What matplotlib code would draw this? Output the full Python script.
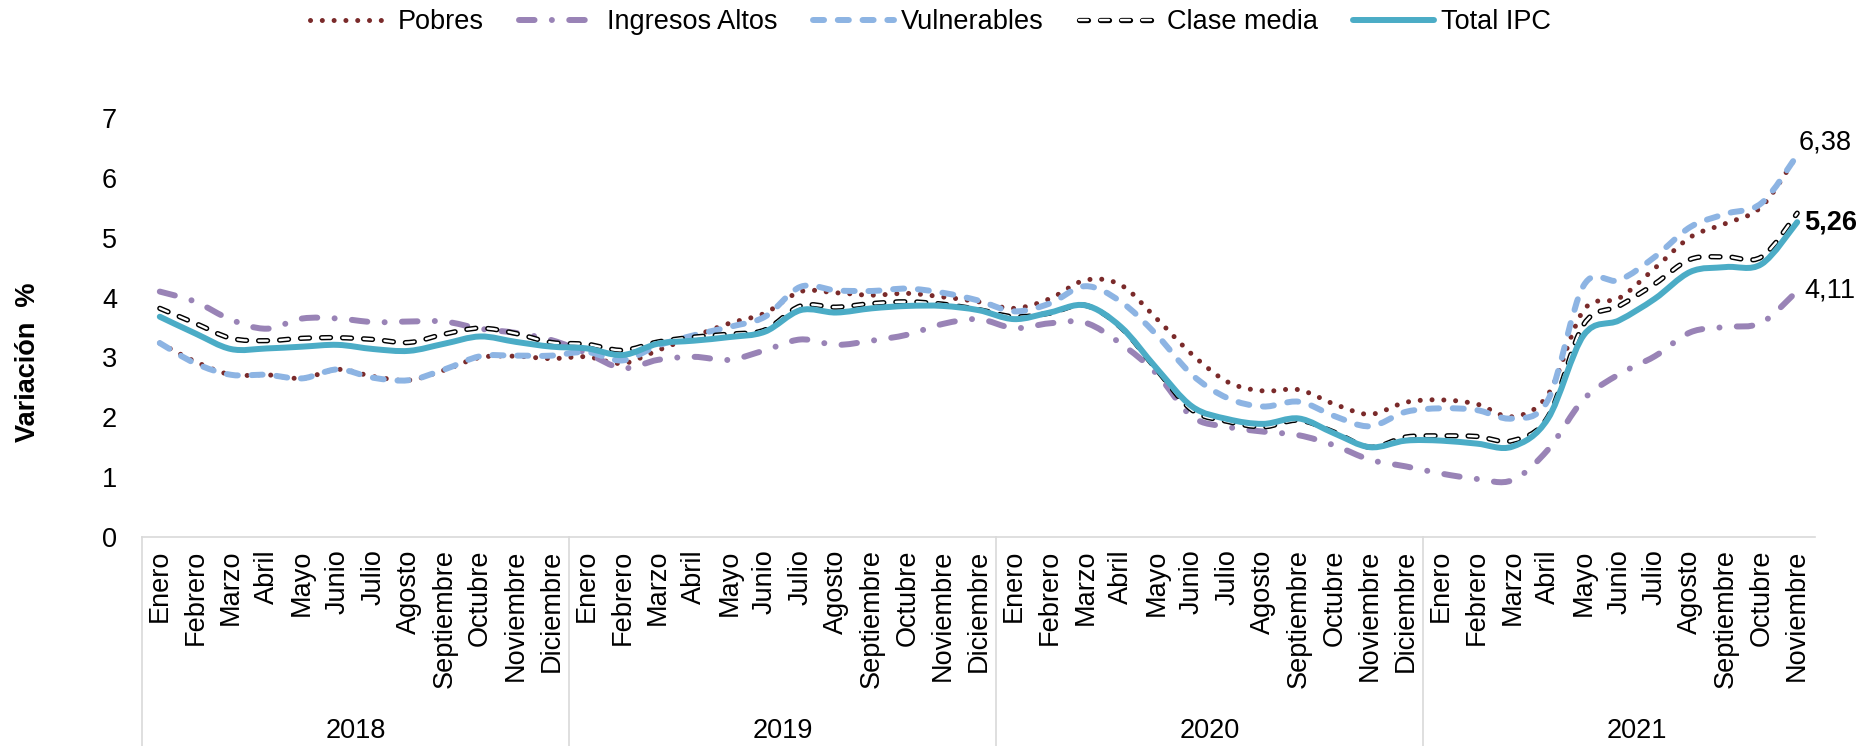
import numpy as np
import matplotlib
matplotlib.use("Agg")
import matplotlib.pyplot as plt
from matplotlib.path import Path
from matplotlib.patches import PathPatch
from matplotlib.lines import Line2D
import matplotlib.patheffects as pe

plt.rcParams['font.family'] = ['Liberation Sans', 'DejaVu Sans']

# datos
meses = ["Enero", "Febrero", "Marzo", "Abril", "Mayo", "Junio", "Julio", "Agosto",
         "Septiembre", "Octubre", "Noviembre", "Diciembre"]
anios = ["2018", "2019", "2020", "2021"]
meses_por_anio = [12, 12, 12, 11]

pobres = [3.24, 2.93, 2.71, 2.71, 2.65, 2.80, 2.68, 2.62, 2.79, 3.00, 3.02, 2.98,
          3.01, 2.90, 3.12, 3.35, 3.57, 3.74, 4.10, 4.08, 4.04, 4.07, 4.01, 3.93,
          3.82, 3.98, 4.29, 4.21, 3.65, 3.05, 2.59, 2.44, 2.46, 2.22, 2.05, 2.25,
          2.29, 2.22, 2.01, 2.38, 3.79, 3.99, 4.49, 5.01, 5.24, 5.52, 6.38]
ingresos_altos = [4.10, 3.93, 3.63, 3.48, 3.65, 3.65, 3.59, 3.60, 3.60, 3.48, 3.41, 3.29,
                  3.07, 2.82, 2.96, 3.01, 2.96, 3.12, 3.30, 3.21, 3.28, 3.38, 3.56, 3.64,
                  3.49, 3.57, 3.58, 3.23, 2.73, 2.01, 1.84, 1.76, 1.70, 1.53, 1.29, 1.18,
                  1.06, 0.97, 0.95, 1.46, 2.30, 2.72, 3.02, 3.42, 3.51, 3.58, 4.11]
vulnerables = [3.24, 2.90, 2.71, 2.71, 2.65, 2.80, 2.66, 2.62, 2.80, 3.02, 3.03, 3.03,
               3.09, 2.95, 3.20, 3.37, 3.51, 3.68, 4.18, 4.12, 4.11, 4.15, 4.08, 3.95,
               3.77, 3.90, 4.19, 3.93, 3.38, 2.71, 2.32, 2.18, 2.26, 2.02, 1.85, 2.09,
               2.15, 2.12, 1.98, 2.29, 4.20, 4.29, 4.68, 5.18, 5.40, 5.58, 6.38]
clase_media = [3.82, 3.57, 3.32, 3.28, 3.32, 3.33, 3.30, 3.25, 3.39, 3.49, 3.40, 3.25,
               3.22, 3.12, 3.26, 3.34, 3.39, 3.46, 3.86, 3.84, 3.90, 3.93, 3.89, 3.80,
               3.68, 3.74, 3.87, 3.50, 2.80, 2.12, 1.93, 1.84, 1.95, 1.75, 1.50, 1.67,
               1.69, 1.68, 1.61, 2.01, 3.55, 3.86, 4.23, 4.64, 4.68, 4.68, 5.41]
total_ipc = [3.68, 3.40, 3.14, 3.15, 3.18, 3.21, 3.14, 3.11, 3.23, 3.35, 3.26, 3.18,
             3.15, 3.04, 3.23, 3.28, 3.34, 3.43, 3.79, 3.75, 3.82, 3.86, 3.86, 3.79,
             3.64, 3.75, 3.87, 3.51, 2.82, 2.18, 1.97, 1.89, 1.98, 1.73, 1.50, 1.61,
             1.61, 1.56, 1.51, 1.98, 3.37, 3.62, 3.98, 4.43, 4.51, 4.56, 5.26]

etiquetas = []
for n in meses_por_anio:
    etiquetas += meses[:n]
x = np.arange(len(etiquetas))

FS = 19.5


def curva_suave(xs, ys):
    # linea suavizada tipo Excel (Bezier por tramos)
    n = len(xs)
    verts = [(xs[0], ys[0])]
    codes = [Path.MOVETO]
    for i in range(n - 1):
        i0 = max(i - 1, 0)
        i3 = min(i + 2, n - 1)
        c1 = (xs[i] + (xs[i + 1] - xs[i0]) / 6, ys[i] + (ys[i + 1] - ys[i0]) / 6)
        c2 = (xs[i + 1] - (xs[i3] - xs[i]) / 6, ys[i + 1] - (ys[i3] - ys[i]) / 6)
        verts += [c1, c2, (xs[i + 1], ys[i + 1])]
        codes += [Path.CURVE4] * 3
    return Path(verts, codes)


fig = plt.figure(figsize=(18.61, 7.46), dpi=100)
ax = fig.add_axes([142 / 1861, 1 - 537 / 746, (1815 - 142) / 1861, (537 - 118) / 746])

estilos = [
    ("Pobres", pobres, dict(edgecolor="#7A2A2A", lw=3.6, linestyle=(0, (0.01, 2.35)))),
    ("Ingresos Altos", ingresos_altos, dict(edgecolor="#9983B6", lw=4.3, linestyle=(0, (2.6, 2.9, 0.01, 2.9)))),
    ("Vulnerables", vulnerables, dict(edgecolor="#8DB4E3", lw=4.3, linestyle=(0, (1.85, 2.3)))),
    ("Clase media", clase_media, dict(edgecolor="white", lw=1.7, linestyle=(0, (3.8, 5.1)),
                                      path_effects=[pe.Stroke(linewidth=3.8, foreground="black"), pe.Normal()])),
    ("Total IPC", total_ipc, dict(edgecolor="#4BACC6", lw=4.3, linestyle="-")),
]

handles = []
for nombre, serie, st in estilos:
    patch = PathPatch(curva_suave(x, serie), fill=False, capstyle="round", joinstyle="round", **st)
    ax.add_patch(patch)
    h = Line2D([], [], color=st["edgecolor"], lw=st["lw"], linestyle=st["linestyle"],
               dash_capstyle="round", solid_capstyle="round",
               path_effects=st.get("path_effects", None))
    handles.append(h)

ax.set_xlim(-0.5, len(x) - 0.5)
ax.set_ylim(0, 7)
ax.set_yticks(range(0, 8))
ax.tick_params(axis="y", length=0, pad=18, labelsize=FS)
ax.set_xticks(x)
ax.set_xticklabels(etiquetas, rotation=90, fontsize=FS)
ax.tick_params(axis="x", length=0, pad=9)

for s in ["top", "right", "left"]:
    ax.spines[s].set_visible(False)
ax.spines["bottom"].set_color("#D9D9D9")
ax.spines["bottom"].set_linewidth(1.2)

# separadores de anio y etiquetas
inicio = 0
for anio, n in zip(anios, meses_por_anio):
    ax.plot([inicio - 0.5, inicio - 0.5], [0, -0.5], transform=ax.get_xaxis_transform(),
            color="#D9D9D9", lw=1.2, clip_on=False)
    ax.text(inicio + 5.5, -0.463, anio, transform=ax.get_xaxis_transform(),
            ha="center", va="center", fontsize=FS)
    inicio += n

# etiquetas finales
ult = len(x) - 1
ax.annotate("6,38", (ult, vulnerables[-1]), xytext=(1, 9), textcoords="offset points",
            ha="left", va="center", fontsize=FS)
ax.annotate("5,26", (ult, total_ipc[-1]), xytext=(5, 0), textcoords="offset points",
            ha="left", va="center", fontsize=FS, fontweight="bold")
ax.annotate("4,11", (ult, ingresos_altos[-1]), xytext=(5, 0), textcoords="offset points",
            ha="left", va="center", fontsize=FS)

fig.text(28 / 1861, 1 - 362 / 746, "Variación  %", rotation=90, ha="center", va="center",
         fontsize=FS, fontweight="bold")

fig.legend(handles, [e[0] for e in estilos], loc="center", bbox_to_anchor=(0.5, 1 - 22 / 746),
           ncol=5, frameon=False, fontsize=FS, handlelength=3.0, handletextpad=0.25,
           columnspacing=1.3, borderaxespad=0)

fig.savefig("out.png", dpi=100)
